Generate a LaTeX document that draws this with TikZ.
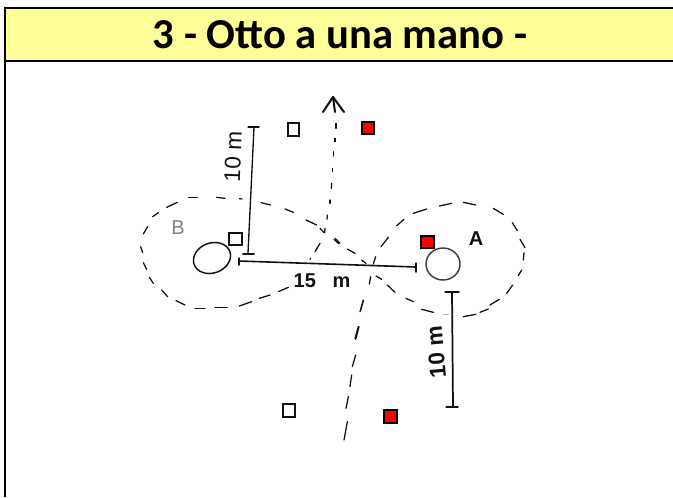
\documentclass[tikz,border=0pt]{standalone}
\usepackage{fontspec}
\setmainfont{Liberation Sans}
\newfontfamily\titlefont{Carlito}
\definecolor{headyellow}{HTML}{FFFF99}
\definecolor{inkc}{HTML}{111111}
\tikzset{
  frameline/.style={black,line width=1.7pt},
  dashmark/.style={inkc,line width=0.95pt,line cap=round},
  dimline/.style={inkc,line width=1pt,line cap=round},
  player/.style={inkc,line width=1.1pt},
  redplayer/.style={draw=black,fill=red,line width=1pt},
  whiteplayer/.style={draw=inkc,fill=white,line width=0.9pt},
  hand/.style={inkc,inner sep=0pt},
}
\begin{document}
\begin{tikzpicture}[x=0.75pt,y=-0.75pt]
\useasboundingbox (0,0) rectangle (673,497);
\fill[white] (0,0) rectangle (673,497);
% frame and header
\fill[headyellow] (5,8) rectangle (673,61);
\draw[frameline] (673,8) -- (5,8) -- (5,497);
\draw[frameline] (5,61) -- (673,61);
\node[inner sep=0pt,font=\titlefont\bfseries\fontsize{32}{34}\selectfont] (title) at (340,35) {3 - Otto a una mano -};
% dashes measured in the first crop
\begin{scope}[shift={(120,80)},x=0.25pt,y=-0.25pt]
\foreach \a/\b/\c/\d in {
 205/352/232/352,290/352/315/355,358/356/366/357,423/368/452/375,495/387/520/397,558/420/590/435,600/445/612/458,645/475/660/490,
 475/635/505/622,418/655/450/645,358/678/395/665,285/683/322/683,225/685/255/685,168/662/195/675,125/630/143/650,88/592/100/610,70/548/80/568,62/500/68/518,70/462/83/440,98/410/115/398,140/382/172/367,
 648/130/648/145,645/175/645/185,640/215/640/228,638/265/638/275,635/310/634/325,630/360/630/370,622/405/621/418,615/445/614/458,600/490/585/515,572/535/570/538}
  \draw[dashmark] (\a,\b) -- (\c,\d);
\end{scope}
\begin{scope}[shift={(330,80)},x=0.25pt,y=-0.25pt]
\foreach \a/\b/\c/\d in {
 12/478/25/490,52/507/75/520,95/540/108/550,138/588/155/598,172/615/195/637,228/655/250/665,275/688/310/697,
 400/710/437/703,450/697/475/687,480/675/508/658,530/640/548/615,565/587/575/570,580/540/582/518,570/478/585/503,547/428/562/452,490/385/520/403,400/367/437/375,328/378/365/370,250/400/290/387,200/437/222/418,153/500/175/472,130/552/137/530,118/612/122/590,92/690/100/660,75/775/85/740}
  \draw[dashmark] (\a,\b) -- (\c,\d);
\draw[dashmark,gray!60] (340,703) -- (355,703);
\end{scope}
\begin{scope}[shift={(260,280)},x=0.25pt,y=-0.25pt]
\foreach \a/\b/\c/\d in {300/95/310/62,287/178/297/140,277/260/287/225,270/320/275/285,258/385/265/350,252/480/262/425}
  \draw[dashmark] (\a,\b) -- (\c,\d);
\end{scope}
% arrow
\coordinate (arrowtip) at (333,97);
\draw[dimline,line width=1.5pt,line join=round] (323,112) -- (arrowtip) -- (344,112);
\draw[dimline,line width=1.5pt] (arrowtip) -- (335,112);
% dimension lines
\coordinate (u1) at (254,127); \coordinate (u2) at (248,253);
\coordinate (m1) at (239,261); \coordinate (m2) at (416,267);
\coordinate (l1) at (452,292); \coordinate (l2) at (453,407);
\draw[dimline] (u1) -- (u2);
\draw[dimline] (248,127) -- (259,127);
\draw[dimline,line width=1.5pt] (243,254) -- (254,254);
\draw[dimline,line width=1.2pt] (m1) -- (m2);
\draw[dimline] (239,258) -- (239,265);
\draw[dimline] (416,263) -- (416,272);
\draw[dimline,line width=1.3pt] (l1) -- (l2);
\draw[dimline] (445,292) -- (459,292);
\draw[dimline] (446,407) -- (458,407);
% goals
\draw[player,rotate around={20:(212,258)}] (212,258) ellipse [x radius=19,y radius=15];
\draw[player,black!75] (443,264) ellipse [x radius=17,y radius=16];
% players
\draw[whiteplayer] (288,123) rectangle (299,136);
\draw[whiteplayer] (229,233) rectangle (242,245);
\draw[whiteplayer] (283,404) rectangle (295,417);
\draw[redplayer] (362,122) rectangle (374,134);
\draw[redplayer] (421,236) rectangle (434,248);
\draw[redplayer] (384,410) rectangle (397,423);
% labels
\node[hand,gray,font=\fontsize{15}{15}\selectfont] (labB) at (178,228) {B};
\node[hand,font=\bfseries\fontsize{15}{15}\selectfont] (labA) at (476,239) {A};
\node[hand,rotate=88,font=\fontsize{17}{17}\selectfont] (lab10up) at (233,157) {10 m};
\node[hand,rotate=95,font=\bfseries\fontsize{17}{17}\selectfont] (lab10low) at (436,352) {10 m};
\node[hand,font=\bfseries\fontsize{15}{15}\selectfont] (lab15) at (322,281) {15\ \ \ m};
\end{tikzpicture}
\end{document}
